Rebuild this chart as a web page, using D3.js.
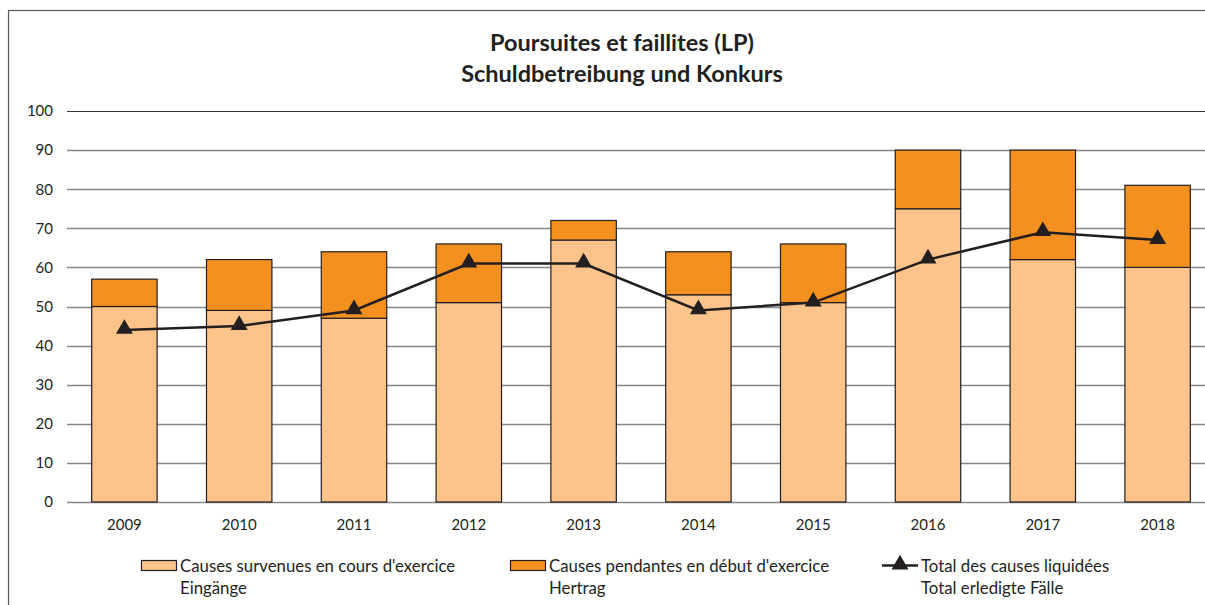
<!DOCTYPE html>
<html>
<head>
<meta charset="utf-8">
<script src="https://cdn.jsdelivr.net/npm/d3@7"></script>
<style>
  html, body { margin: 0; padding: 0; background: #fff; overflow: hidden; }
  svg { display: block; font-family: Lato, "Open Sans", sans-serif; }
</style>
</head>
<body>
<div id="chart"></div>
<script>
const years = ["2009", "2010", "2011", "2012", "2013", "2014", "2015", "2016", "2017", "2018"];
const survenues = [50, 49, 47, 51, 67, 53, 51, 75, 62, 60];
const pendantes = [7, 13, 17, 15, 5, 11, 15, 15, 28, 21];
const liquidees = [44, 45, 49, 61, 61, 49, 51, 62, 69, 67];
const yTicks = [0, 10, 20, 30, 40, 50, 60, 70, 80, 90, 100];

const titleLines = ["Poursuites et faillites (LP)", "Schuldbetreibung und Konkurs"];
const legendItems = [
  { kind: "bar", fill: "#fcc38a", fr: "Causes survenues en cours d'exercice", de: "Eingänge" },
  { kind: "bar", fill: "#f39020", fr: "Causes pendantes en début d'exercice", de: "Hertrag" },
  { kind: "line", fr: "Total des causes liquidées", de: "Total erledigte Fälle" }
];

const width = 1205;
const height = 605;
const plotLeft = 67;
const plotRight = 1215;
const plotTop = 111;
const plotBottom = 502;

const colLight = "#fcc38a";
const colDark = "#f39020";
const ink = "#231f20";

const svg = d3.select("#chart").append("svg")
  .attr("width", width)
  .attr("height", height)
  .attr("viewBox", [0, 0, width, height]);

// outer frame
svg.append("rect")
  .attr("x", 8.5).attr("y", 10.5)
  .attr("width", 1210).attr("height", 620)
  .attr("fill", "none")
  .attr("stroke", "#595959")
  .attr("stroke-width", 1.2);

const title = svg.append("text")
  .attr("text-anchor", "middle")
  .attr("font-size", 23.5)
  .attr("font-weight", "bold")
  .attr("fill", ink);
titleLines.forEach((t, i) => {
  title.append("tspan").attr("x", 622).attr("y", 51 + i * 31).text(t);
});

const x = d3.scaleBand()
  .domain(years)
  .range([plotLeft, plotRight])
  .paddingInner(0.43)
  .paddingOuter(0.215);

const y = d3.scaleLinear()
  .domain([0, 100])
  .range([plotBottom, plotTop]);

// gridlines
svg.append("g")
  .selectAll("line")
  .data(yTicks)
  .join("line")
  .attr("x1", plotLeft)
  .attr("x2", width)
  .attr("y1", (d) => Math.round(y(d)) + 0.5)
  .attr("y2", (d) => Math.round(y(d)) + 0.5)
  .attr("stroke", (d) => (d === 100 ? "#333" : "#868686"))
  .attr("stroke-width", (d) => (d === 100 ? 1.2 : 1.5));

// y axis labels
const yAxis = svg.append("g")
  .attr("transform", `translate(${plotLeft - 14},0)`)
  .call(d3.axisLeft(y).tickValues(yTicks).tickSize(0).tickPadding(0));
yAxis.select(".domain").remove();
yAxis.selectAll(".tick text")
  .attr("font-size", 15)
  .attr("font-family", "Lato, sans-serif")
  .attr("fill", ink);

// x axis labels
const xAxis = svg.append("g")
  .attr("transform", `translate(0,${plotBottom + 14})`)
  .call(d3.axisBottom(x).tickSize(0).tickPadding(3));
xAxis.select(".domain").remove();
xAxis.selectAll(".tick text")
  .attr("font-size", 15)
  .attr("font-family", "Lato, sans-serif")
  .attr("fill", ink);

// stacked bars
const rows = years.map((yr, i) => ({ year: yr, a: survenues[i], b: pendantes[i], c: liquidees[i] }));

const bars = svg.append("g");
bars.selectAll("rect.light")
  .data(rows)
  .join("rect")
  .attr("class", "light")
  .attr("x", (d) => x(d.year))
  .attr("width", x.bandwidth())
  .attr("y", (d) => y(d.a))
  .attr("height", (d) => y(0) - y(d.a))
  .attr("fill", colLight)
  .attr("stroke", ink)
  .attr("stroke-width", 1.2);

bars.selectAll("rect.dark")
  .data(rows)
  .join("rect")
  .attr("class", "dark")
  .attr("x", (d) => x(d.year))
  .attr("width", x.bandwidth())
  .attr("y", (d) => y(d.a + d.b))
  .attr("height", (d) => y(d.a) - y(d.a + d.b))
  .attr("fill", colDark)
  .attr("stroke", ink)
  .attr("stroke-width", 1.2);

// line with triangle markers
const line = d3.line()
  .x((d) => x(d.year) + x.bandwidth() / 2)
  .y((d) => y(d.c));

svg.append("path")
  .datum(rows)
  .attr("d", line)
  .attr("fill", "none")
  .attr("stroke", ink)
  .attr("stroke-width", 2.5);

const tri = d3.symbol().type(d3.symbolTriangle).size(125);
svg.append("g")
  .selectAll("path")
  .data(rows)
  .join("path")
  .attr("transform", (d) => `translate(${x(d.year) + x.bandwidth() / 2},${y(d.c) - 1})`)
  .attr("d", tri)
  .attr("fill", ink);

// legend
const legendX = [141, 510, 882];
const legend = svg.append("g");
legendItems.forEach((item, i) => {
  const g = legend.append("g").attr("transform", `translate(${legendX[i]},560)`);
  if (item.kind === "bar") {
    g.append("rect")
      .attr("x", 0.5).attr("y", 0.5)
      .attr("width", 35).attr("height", 10)
      .attr("fill", item.fill)
      .attr("stroke", ink)
      .attr("stroke-width", 1.2);
  } else {
    g.append("line")
      .attr("x1", 0).attr("x2", 36)
      .attr("y1", 5.5).attr("y2", 5.5)
      .attr("stroke", ink)
      .attr("stroke-width", 2.5);
    g.append("path")
      .attr("transform", "translate(18,4.5)")
      .attr("d", tri)
      .attr("fill", ink);
  }
  const t = g.append("text")
    .attr("font-size", 16.8)
    .attr("fill", ink);
  t.append("tspan").attr("x", 39).attr("y", 11.5).text(item.fr);
  t.append("tspan").attr("x", 39).attr("y", 33.5).text(item.de);
});
</script>
</body>
</html>
